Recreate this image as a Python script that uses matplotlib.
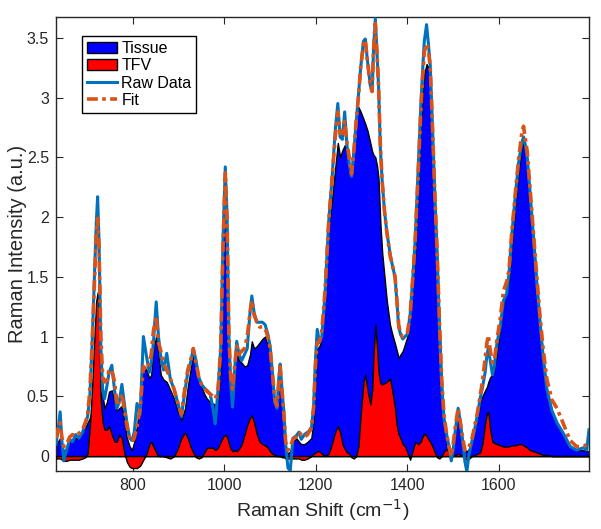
import matplotlib
matplotlib.use("Agg")
import matplotlib.pyplot as plt

shift = [632, 636, 641, 645, 649, 655, 662, 668, 675, 682, 690, 696, 701, 706, 711, 716, 720, 723, 726, 730,
         734, 738, 743, 748, 754, 760, 765, 770, 776, 781, 787, 793, 798, 803, 809, 816, 823, 830, 836, 840,
         845, 851, 856, 861, 867, 874, 882, 890, 898, 906, 914, 920, 926, 932, 938, 944, 950, 956, 962, 969,
         975, 980, 986, 992, 997, 1002, 1006, 1010, 1014, 1018, 1023, 1027, 1032, 1038, 1044, 1050, 1056, 1060, 1065, 1071,
         1077, 1083, 1089, 1095, 1100, 1105, 1110, 1115, 1119, 1122, 1126, 1130, 1134, 1139, 1144, 1150, 1157, 1163, 1168, 1175,
         1182, 1190, 1195, 1199, 1203, 1208, 1213, 1220, 1228, 1235, 1242, 1248, 1253, 1258, 1263, 1268, 1273, 1278, 1283, 1288,
         1293, 1298, 1304, 1308, 1313, 1319, 1323, 1326, 1330, 1334, 1337, 1341, 1345, 1350, 1355, 1362, 1367, 1373, 1377, 1381,
         1385, 1390, 1395, 1400, 1406, 1412, 1417, 1424, 1429, 1433, 1437, 1442, 1446, 1450, 1455, 1460, 1465, 1470, 1475, 1480,
         1486, 1491, 1496, 1500, 1505, 1511, 1516, 1521, 1526, 1530, 1535, 1541, 1547, 1553, 1559, 1564, 1570, 1574, 1577, 1581,
         1586, 1590, 1596, 1603, 1610, 1617, 1622, 1628, 1636, 1643, 1650, 1654, 1658, 1662, 1668, 1676, 1683, 1690, 1697, 1705,
         1716, 1727, 1741, 1756, 1770, 1785, 1792, 1797]

raw = [0.10, 0.20, 0.37, 0.12, -0.04, 0.05, 0.14, 0.12, 0.18, 0.15, 0.20, 0.27, 0.33, 0.50, 0.95, 1.50, 1.95, 2.17, 1.80, 0.90,
       0.55, 0.48, 0.58, 0.70, 0.76, 0.55, 0.40, 0.45, 0.60, 0.45, 0.28, 0.15, 0.13, 0.20, 0.44, 0.35, 1.00, 0.83, 0.70, 0.78,
       0.95, 1.29, 1.00, 0.83, 0.72, 0.86, 0.64, 0.56, 0.45, 0.33, 0.55, 0.70, 0.78, 0.90, 0.80, 0.66, 0.60, 0.57, 0.55, 0.52,
       0.40, 0.27, 0.55, 0.90, 1.80, 2.42, 2.00, 1.00, 0.60, 0.41, 0.75, 0.96, 0.85, 0.80, 0.85, 0.90, 1.20, 1.34, 1.20, 1.12,
       1.12, 1.12, 1.10, 1.02, 0.92, 0.70, 0.45, 0.40, 0.65, 0.77, 0.55, 0.38, 0.10, -0.10, -0.12, 0.15, 0.17, 0.20, 0.14, 0.18,
       0.20, 0.22, 0.41, 0.80, 1.06, 0.95, 1.00, 1.35, 1.96, 2.30, 2.71, 2.95, 2.67, 2.65, 2.88, 2.60, 2.45, 2.34, 2.55, 2.78,
       3.00, 3.25, 3.47, 3.49, 3.30, 3.10, 3.05, 3.40, 3.66, 3.35, 3.10, 2.57, 2.30, 2.05, 1.88, 1.70, 1.60, 1.50, 1.30, 1.08,
       1.02, 0.98, 1.00, 1.02, 1.18, 1.50, 1.80, 2.45, 2.90, 3.20, 3.47, 3.61, 3.45, 3.27, 2.75, 2.20, 1.70, 1.10, 0.60, 0.32,
       0.18, 0.08, -0.04, 0.05, 0.22, 0.40, 0.28, 0.12, -0.05, -0.13, 0.02, 0.12, 0.22, 0.34, 0.48, 0.57, 0.70, 0.85, 0.90, 0.80,
       0.68, 0.75, 0.95, 1.08, 1.30, 1.36, 1.52, 1.84, 2.18, 2.45, 2.62, 2.67, 2.60, 2.50, 2.22, 1.82, 1.45, 1.12, 0.82, 0.56,
       0.38, 0.28, 0.19, 0.08, 0.05, 0.07, 0.05, 0.22]

fit = [0.15, 0.22, 0.28, 0.15, 0.08, 0.10, 0.16, 0.18, 0.17, 0.19, 0.22, 0.28, 0.34, 0.55, 0.95, 1.45, 1.85, 1.99, 1.75, 1.00,
       0.66, 0.62, 0.63, 0.72, 0.72, 0.62, 0.45, 0.45, 0.52, 0.40, 0.25, 0.15, 0.12, 0.15, 0.25, 0.40, 0.75, 0.72, 0.78, 0.85,
       1.05, 1.17, 0.95, 0.88, 0.78, 0.72, 0.65, 0.56, 0.45, 0.35, 0.58, 0.72, 0.80, 0.90, 0.78, 0.66, 0.60, 0.57, 0.54, 0.52,
       0.50, 0.48, 0.55, 0.90, 1.75, 2.37, 1.95, 1.00, 0.65, 0.56, 0.78, 0.92, 0.85, 0.88, 0.90, 1.00, 1.20, 1.30, 1.18, 1.12,
       1.08, 1.08, 1.07, 1.00, 0.90, 0.70, 0.48, 0.42, 0.62, 0.75, 0.55, 0.35, 0.12, 0.05, 0.08, 0.14, 0.16, 0.20, 0.18, 0.16,
       0.18, 0.24, 0.40, 0.75, 0.95, 0.96, 1.05, 1.38, 1.96, 2.30, 2.65, 2.88, 2.70, 2.70, 2.80, 2.62, 2.50, 2.36, 2.55, 2.80,
       3.00, 3.25, 3.45, 3.48, 3.30, 3.10, 3.05, 3.40, 3.62, 3.35, 3.10, 2.60, 2.30, 2.05, 1.88, 1.68, 1.60, 1.50, 1.32, 1.10,
       1.02, 1.00, 1.02, 1.03, 1.18, 1.50, 1.80, 2.40, 2.85, 3.15, 3.38, 3.45, 3.40, 3.25, 2.75, 2.20, 1.72, 1.15, 0.65, 0.35,
       0.18, 0.08, 0.00, 0.10, 0.25, 0.40, 0.28, 0.15, 0.05, 0.05, 0.08, 0.14, 0.25, 0.36, 0.50, 0.62, 0.82, 0.95, 1.01, 0.89,
       0.78, 0.80, 0.98, 1.15, 1.38, 1.46, 1.55, 1.86, 2.20, 2.48, 2.70, 2.76, 2.65, 2.55, 2.25, 1.86, 1.50, 1.17, 0.89, 0.64,
       0.47, 0.40, 0.27, 0.13, 0.08, 0.08, 0.10, 0.12]

tissue = [0.08, 0.12, 0.15, 0.10, 0.04, 0.06, 0.12, 0.14, 0.15, 0.17, 0.20, 0.24, 0.28, 0.32, 0.38, 0.45, 0.55, 0.62, 0.62, 0.58,
          0.50, 0.40, 0.45, 0.54, 0.55, 0.45, 0.38, 0.40, 0.42, 0.30, 0.15, 0.08, 0.05, 0.12, 0.25, 0.47, 0.75, 0.72, 0.65, 0.68,
          0.90, 1.00, 0.85, 0.68, 0.64, 0.62, 0.55, 0.48, 0.38, 0.30, 0.40, 0.58, 0.72, 0.86, 0.76, 0.64, 0.58, 0.52, 0.48, 0.45,
          0.44, 0.43, 0.45, 0.75, 1.60, 2.20, 1.80, 0.88, 0.58, 0.52, 0.72, 0.88, 0.80, 0.78, 0.75, 0.76, 0.85, 0.96, 0.90, 0.92,
          0.95, 0.98, 1.00, 0.92, 0.84, 0.66, 0.44, 0.40, 0.60, 0.74, 0.52, 0.30, 0.06, 0.02, 0.04, 0.12, 0.15, 0.12, 0.10, 0.10,
          0.12, 0.15, 0.30, 0.65, 0.90, 0.92, 1.00, 1.32, 1.90, 2.13, 2.40, 2.62, 2.50, 2.56, 2.60, 2.52, 2.42, 2.35, 2.60, 2.85,
          2.92, 2.88, 2.82, 2.78, 2.72, 2.62, 2.55, 2.52, 2.50, 2.42, 2.32, 1.95, 1.70, 1.50, 1.30, 1.10, 1.02, 0.94, 0.88, 0.82,
          0.85, 0.88, 0.94, 1.00, 1.20, 1.45, 1.68, 2.30, 2.75, 3.00, 3.20, 3.28, 3.25, 3.12, 2.65, 2.12, 1.70, 1.12, 0.62, 0.30,
          0.10, 0.05, 0.02, 0.08, 0.22, 0.36, 0.25, 0.12, 0.05, 0.04, 0.06, 0.12, 0.22, 0.33, 0.45, 0.50, 0.55, 0.58, 0.62, 0.66,
          0.68, 0.72, 0.88, 1.06, 1.28, 1.38, 1.46, 1.77, 2.10, 2.38, 2.58, 2.62, 2.55, 2.45, 2.18, 1.80, 1.45, 1.12, 0.82, 0.56,
          0.38, 0.28, 0.18, 0.08, 0.05, 0.05, 0.04, 0.04]

tfv = [-0.02, -0.02, -0.02, -0.03, -0.04, -0.04, -0.03, -0.03, -0.03, -0.03, -0.02, -0.01, 0.02, 0.25, 0.58, 1.00, 1.30, 1.37, 1.15, 0.45,
       0.28, 0.22, 0.22, 0.25, 0.18, 0.12, 0.12, 0.18, 0.15, 0.03, -0.05, -0.09, -0.10, -0.10, -0.10, -0.08, -0.03, 0.02, 0.10, 0.12,
       0.08, 0.03, 0.00, 0.00, 0.00, -0.01, -0.02, 0.00, 0.06, 0.15, 0.20, 0.15, 0.08, 0.03, -0.01, -0.02, -0.01, 0.03, 0.07, 0.07,
       0.07, 0.05, 0.07, 0.12, 0.16, 0.18, 0.16, 0.10, 0.06, 0.04, 0.05, 0.04, 0.06, 0.10, 0.18, 0.26, 0.32, 0.34, 0.28, 0.18,
       0.12, 0.10, 0.09, 0.07, 0.04, 0.02, 0.01, 0.00, 0.00, 0.00, -0.01, -0.01, -0.02, -0.02, -0.02, -0.02, -0.02, -0.02, -0.03, -0.03,
       -0.02, 0.00, 0.02, 0.03, 0.04, 0.04, 0.02, 0.00, 0.02, 0.10, 0.20, 0.25, 0.20, 0.10, 0.06, 0.03, 0.02, -0.01, -0.02, 0.00,
       0.08, 0.35, 0.62, 0.68, 0.55, 0.43, 0.55, 0.85, 1.10, 0.90, 0.70, 0.61, 0.60, 0.61, 0.62, 0.65, 0.55, 0.40, 0.25, 0.18,
       0.15, 0.10, 0.08, 0.03, -0.03, 0.05, 0.12, 0.10, 0.12, 0.16, 0.19, 0.17, 0.14, 0.12, 0.08, 0.03, -0.01, -0.02, 0.00, 0.04,
       0.06, 0.03, 0.00, 0.00, 0.01, 0.02, 0.01, 0.00, -0.02, -0.03, -0.02, 0.00, 0.01, 0.02, 0.03, 0.10, 0.28, 0.36, 0.37, 0.22,
       0.12, 0.11, 0.10, 0.09, 0.08, 0.08, 0.08, 0.09, 0.09, 0.10, 0.10, 0.09, 0.08, 0.07, 0.05, 0.04, 0.03, 0.02, 0.01, 0.01,
       0.00, 0.00, 0.00, 0.00, 0.00, 0.00, 0.00, 0.00]

x_ticks = [800, 1000, 1200, 1400, 1600]
y_ticks = [0, 0.5, 1, 1.5, 2, 2.5, 3, 3.5]
y_tick_labels = ["0", "0.5", "1", "1.5", "2", "2.5", "3", "3.5"]

plt.rcParams['font.family'] = ['Liberation Sans', 'DejaVu Sans']
dark = '#262626'

fig = plt.figure(figsize=(6.01, 5.29), dpi=100)
ax = fig.add_axes([0.0932, 0.1096, 0.8868, 0.8583])

ax.fill_between(shift, 0, tissue, facecolor=(0, 0, 1), edgecolor='black', linewidth=1.0, label='Tissue', zorder=2)
ax.fill_between(shift, 0, tfv, facecolor=(1, 0, 0), edgecolor='black', linewidth=1.0, label='TFV', zorder=3)
ax.plot(shift, raw, color=(0, 0.447, 0.741), linewidth=2.2, label='Raw Data', zorder=4)
ax.plot(shift, fit, color=(0.85, 0.325, 0.098), linewidth=2.6, linestyle=(0, (3, 1.2, 1, 1.2)), label='Fit', zorder=5)

ax.set_xlim(632, 1797)
ax.set_ylim(-0.125, 3.674)
ax.set_xticks(x_ticks)
ax.set_yticks(y_ticks)
ax.set_yticklabels(y_tick_labels)
ax.tick_params(direction='in', top=True, right=True, length=5, width=0.8, colors=dark, labelsize=11.5, pad=5)
for s in ax.spines.values():
    s.set_color(dark)
    s.set_linewidth(1.0)

ax.set_xlabel('Raman Shift (cm$^{-1}$)', fontsize=14, color=dark, labelpad=3)
ax.set_ylabel('Raman Intensity (a.u.)', fontsize=14.5, color=dark, labelpad=0)

leg = ax.legend(loc='upper left', bbox_to_anchor=(0.049, 0.958), fontsize=11.5, frameon=True, fancybox=False,
                edgecolor='black', framealpha=1, borderpad=0.3, labelspacing=0.15, handlelength=1.9,
                handletextpad=0.25, borderaxespad=0)
leg.get_frame().set_linewidth(1.0)

fig.savefig('out.png', dpi=100)
